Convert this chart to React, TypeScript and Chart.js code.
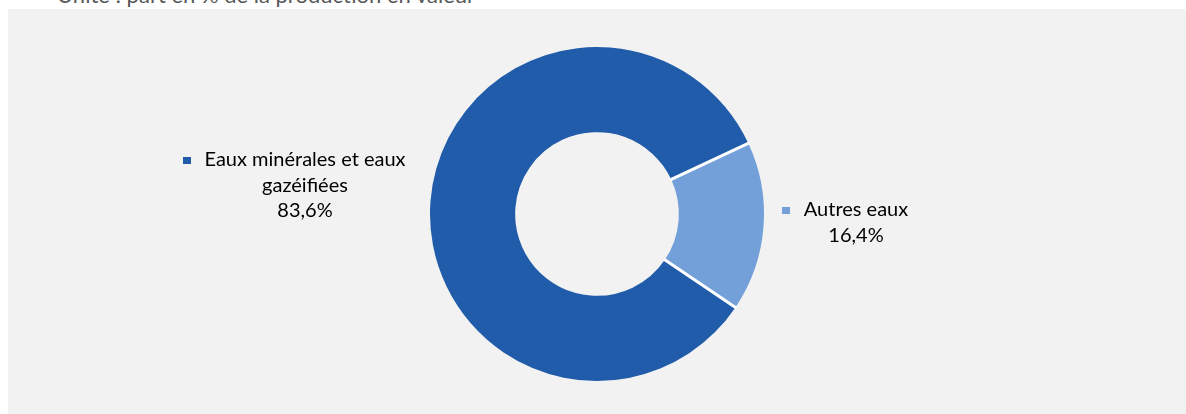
import React, { useEffect, useRef } from "react";
import { Chart, registerables } from "chart.js";

Chart.register(...registerables);

const categories = ["Eaux minérales et eaux gazéifiées", "Autres eaux"];
const categoryLines = [["Eaux minérales et eaux", "gazéifiées"], ["Autres eaux"]];
const shares = [83.6, 16.4];
const colors = ["#215CAA", "#74A0DA"];
const titleText = "Unité : part en % de la production en valeur";

// label anchors relative to donut centre (centre x of text block, first baseline)
const labelOffsets = [
  { dx: -292, dy: -48 },
  { dx: 259, dy: 2 },
];

const FONT = "Lato, 'Open Sans', sans-serif";

const fmt = (v: number) => v.toFixed(1).replace(".", ",") + "%";

const decorPlugin = {
  id: "decor",
  afterDatasetsDraw(chart: any) {
    const ctx = chart.ctx as CanvasRenderingContext2D;
    const meta = chart.getDatasetMeta(0);
    ctx.save();
    // white separators between slices
    meta.data.forEach((arc: any) => {
      const { x, y, startAngle, innerRadius, outerRadius } = arc.getProps(
        ["x", "y", "startAngle", "innerRadius", "outerRadius"],
        true
      );
      ctx.strokeStyle = "#FFFFFF";
      ctx.lineWidth = 3;
      ctx.beginPath();
      ctx.moveTo(x + Math.cos(startAngle) * (innerRadius - 1), y + Math.sin(startAngle) * (innerRadius - 1));
      ctx.lineTo(x + Math.cos(startAngle) * (outerRadius + 1), y + Math.sin(startAngle) * (outerRadius + 1));
      ctx.stroke();
    });
    // labels
    const arc0 = meta.data[0];
    const cx = arc0.x;
    const cy = arc0.y;
    ctx.font = `20px ${FONT}`;
    ctx.textBaseline = "alphabetic";
    ctx.textAlign = "center";
    ctx.fillStyle = "#000000";
    const lh = 25.5;
    categoryLines.forEach((lines, i) => {
      const o = labelOffsets[i];
      const lx = cx + o.dx;
      const ly = cy + o.dy;
      const all = [...lines, fmt(shares[i])];
      all.forEach((t, k) => {
        ctx.fillText(t, lx, ly + k * lh);
      });
      const w0 = ctx.measureText(lines[0]).width;
      const left = lx - w0 / 2;
      ctx.fillStyle = colors[i];
      ctx.fillRect(Math.round(left - 13.5 - 8), Math.round(ly - 9), 8, 7);
      ctx.fillStyle = "#000000";
    });
    ctx.restore();
  },
};

export default function App() {
  const ref = useRef<HTMLCanvasElement | null>(null);
  useEffect(() => {
    if (!ref.current) return;
    const chart = new Chart(ref.current, {
      type: "doughnut",
      data: {
        labels: categories,
        datasets: [
          {
            data: shares,
            backgroundColor: colors,
            borderWidth: 0,
            hoverOffset: 0,
          },
        ],
      },
      options: {
        animation: false,
        responsive: true,
        maintainAspectRatio: false,
        events: [],
        rotation: 124,
        cutout: "49%",
        layout: { padding: { top: 38, bottom: 33, left: 0, right: 0 } },
        plugins: {
          legend: { display: false },
          tooltip: { enabled: false },
        },
      },
      plugins: [decorPlugin],
    });
    return () => chart.destroy();
  }, []);

  return (
    <div>
      <div
        style={{
          position: "absolute",
          left: 57,
          top: -17,
          fontFamily: FONT,
          fontSize: 22,
          color: "#595959",
          whiteSpace: "nowrap",
          lineHeight: "24px",
        }}
      >
        {titleText}
      </div>
      <div
        style={{
          position: "absolute",
          left: 8,
          top: 9,
          right: 0,
          bottom: 0,
          background: "#F2F2F2",
        }}
      >
        <canvas ref={ref} />
      </div>
    </div>
  );
}
